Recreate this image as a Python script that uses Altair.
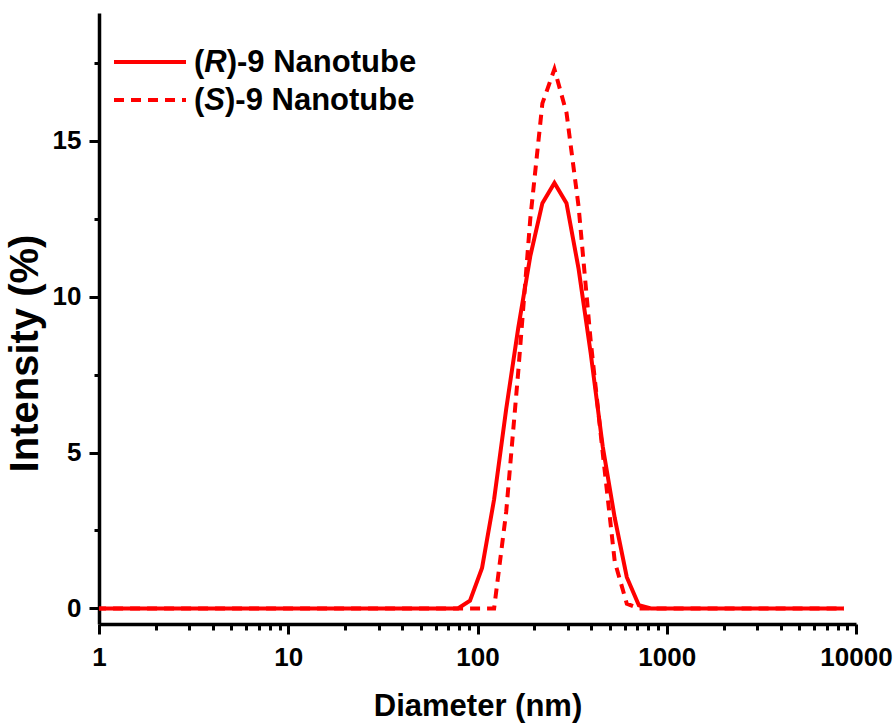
import altair as alt
import pandas as pd

# Size bins (nm) and intensity (%) distributions
sizes = [0.9649, 1.117, 1.294, 1.499, 1.736, 2.010, 2.328, 2.696, 3.122, 3.615,
         4.187, 4.849, 5.615, 6.503, 7.531, 8.721, 10.10, 11.70, 13.54, 15.69,
         18.17, 21.04, 24.36, 28.21, 32.67, 37.84, 43.82, 50.75, 58.77, 68.06,
         78.82, 91.28, 105.7, 122.4, 141.8, 164.2, 190.1, 220.2, 255.0, 295.3,
         342.0, 396.1, 458.7, 531.2, 615.1, 712.4, 825.0, 955.4, 1106, 1281,
         1484, 1718, 1990, 2305, 2669, 3091, 3580, 4145, 4801, 5560,
         6439, 7456, 8635]

r_intensity = [0, 0, 0, 0, 0, 0, 0, 0, 0, 0,
               0, 0, 0, 0, 0, 0, 0, 0, 0, 0,
               0, 0, 0, 0, 0, 0, 0, 0, 0, 0,
               0, 0.25, 1.3, 3.5, 6.4, 9.0, 11.3, 13.0, 13.65, 13.0,
               10.9, 8.2, 5.2, 2.9, 1.0, 0.1, 0, 0, 0, 0,
               0, 0, 0, 0, 0, 0, 0, 0, 0, 0,
               0, 0, 0]

s_intensity = [0, 0, 0, 0, 0, 0, 0, 0, 0, 0,
               0, 0, 0, 0, 0, 0, 0, 0, 0, 0,
               0, 0, 0, 0, 0, 0, 0, 0, 0, 0,
               0, 0, 0, 0, 3.1, 7.6, 12.5, 16.2, 17.3, 15.9,
               12.9, 8.6, 5.0, 1.5, 0.15, 0, 0, 0, 0, 0,
               0, 0, 0, 0, 0, 0, 0, 0, 0, 0,
               0, 0, 0]

x_ticks = [1, 2, 3, 4, 5, 6, 7, 8, 9,
           10, 20, 30, 40, 50, 60, 70, 80, 90,
           100, 200, 300, 400, 500, 600, 700, 800, 900,
           1000, 2000, 3000, 4000, 5000, 6000, 7000, 8000, 9000, 10000]
y_ticks = [0, 2.5, 5, 7.5, 10, 12.5, 15, 17.5]

legend_r = ["(", "R", ")-9 Nanotube"]
legend_s = ["(", "S", ")-9 Nanotube"]

RED = "#FF0000"
FONT = "Liberation Sans"
W, H = 757, 611

df_r = pd.DataFrame({"size": sizes, "intensity": r_intensity})
df_s = pd.DataFrame({"size": sizes, "intensity": s_intensity})

xscale = alt.Scale(type="log", domain=[1, 10000], nice=False)
yscale = alt.Scale(domain=[-0.5, 19.1], nice=False, zero=False)

xaxis = alt.Axis(
    values=x_ticks,
    labelExpr="indexof([1,10,100,1000,10000], datum.value) >= 0 ? format(datum.value, 'd') : ''",
    tickSize={"condition": {"test": "indexof([1,10,100,1000,10000], datum.value) >= 0", "value": 10}, "value": 6},
    labelPadding=10,
    labelOverlap=False,
    labelFlush=False,
    labelFontSize=26,
    title="Diameter (nm)",
    titleFontSize=31,
    titleY=91,
    titleBaseline="alphabetic",
)
yaxis = alt.Axis(
    values=y_ticks,
    labelExpr="datum.value % 5 === 0 ? format(datum.value, 'd') : ''",
    tickSize={"condition": {"test": "datum.value % 5 === 0", "value": 10}, "value": 5},
    labelPadding=8,
    labelOverlap=False,
    labelFlush=False,
    labelFontSize=26,
    title="Intensity (%)",
    titleFontSize=40,
    titleAngle=270,
    titleX=-74,
    titleY=340,
    titleBaseline="middle",
    titleAlign="center",
)

line_s = alt.Chart(df_s).mark_line(
    color=RED, strokeWidth=4, strokeDash=[10, 7], clip=True
).encode(
    x=alt.X("size:Q", scale=xscale, axis=xaxis),
    y=alt.Y("intensity:Q", scale=yscale, axis=yaxis),
)
line_r = alt.Chart(df_r).mark_line(
    color=RED, strokeWidth=4, clip=True
).encode(
    x=alt.X("size:Q", scale=xscale),
    y=alt.Y("intensity:Q", scale=yscale),
)

one = pd.DataFrame({"k": [0]})
leg_line_r = alt.Chart(one).mark_rule(color=RED, strokeWidth=4).encode(
    x=alt.value(15), x2=alt.value(87), y=alt.value(49))
leg_line_s = alt.Chart(one).mark_rule(color=RED, strokeWidth=4, strokeDash=[10, 7]).encode(
    x=alt.value(15), x2=alt.value(87), y=alt.value(87))

LFS = 31
def legend_text(parts, second_w, ypos):
    x0 = 95
    w_paren = 0.333 * LFS
    layers = []
    xs = [x0, x0 + w_paren, x0 + w_paren + second_w * LFS]
    styles = ["normal", "italic", "normal"]
    for txt, xx, st in zip(parts, xs, styles):
        layers.append(
            alt.Chart(one).mark_text(
                text=txt, font=FONT, fontWeight="bold", fontStyle=st,
                fontSize=LFS, align="left", baseline="middle", color="black"
            ).encode(x=alt.value(xx), y=alt.value(ypos))
        )
    return layers

texts = legend_text(legend_r, 0.722, 50) + legend_text(legend_s, 0.667, 88)

chart = alt.layer(line_s, line_r, leg_line_r, leg_line_s, *texts).properties(
    width=W, height=H,
    autosize=alt.AutoSizeParams(type="none"),
    padding={"left": 99, "top": 13, "right": 39, "bottom": 100},
    background="white",
).configure_view(strokeWidth=0).configure_axis(
    grid=False,
    domainColor="black", domainWidth=3.5,
    tickColor="black", tickWidth=3,
    labelFont=FONT, labelFontWeight="bold", labelColor="black",
    titleFont=FONT, titleFontWeight="bold", titleColor="black",
)

chart.save("out.html", embed_options={"renderer": "svg", "actions": False})
